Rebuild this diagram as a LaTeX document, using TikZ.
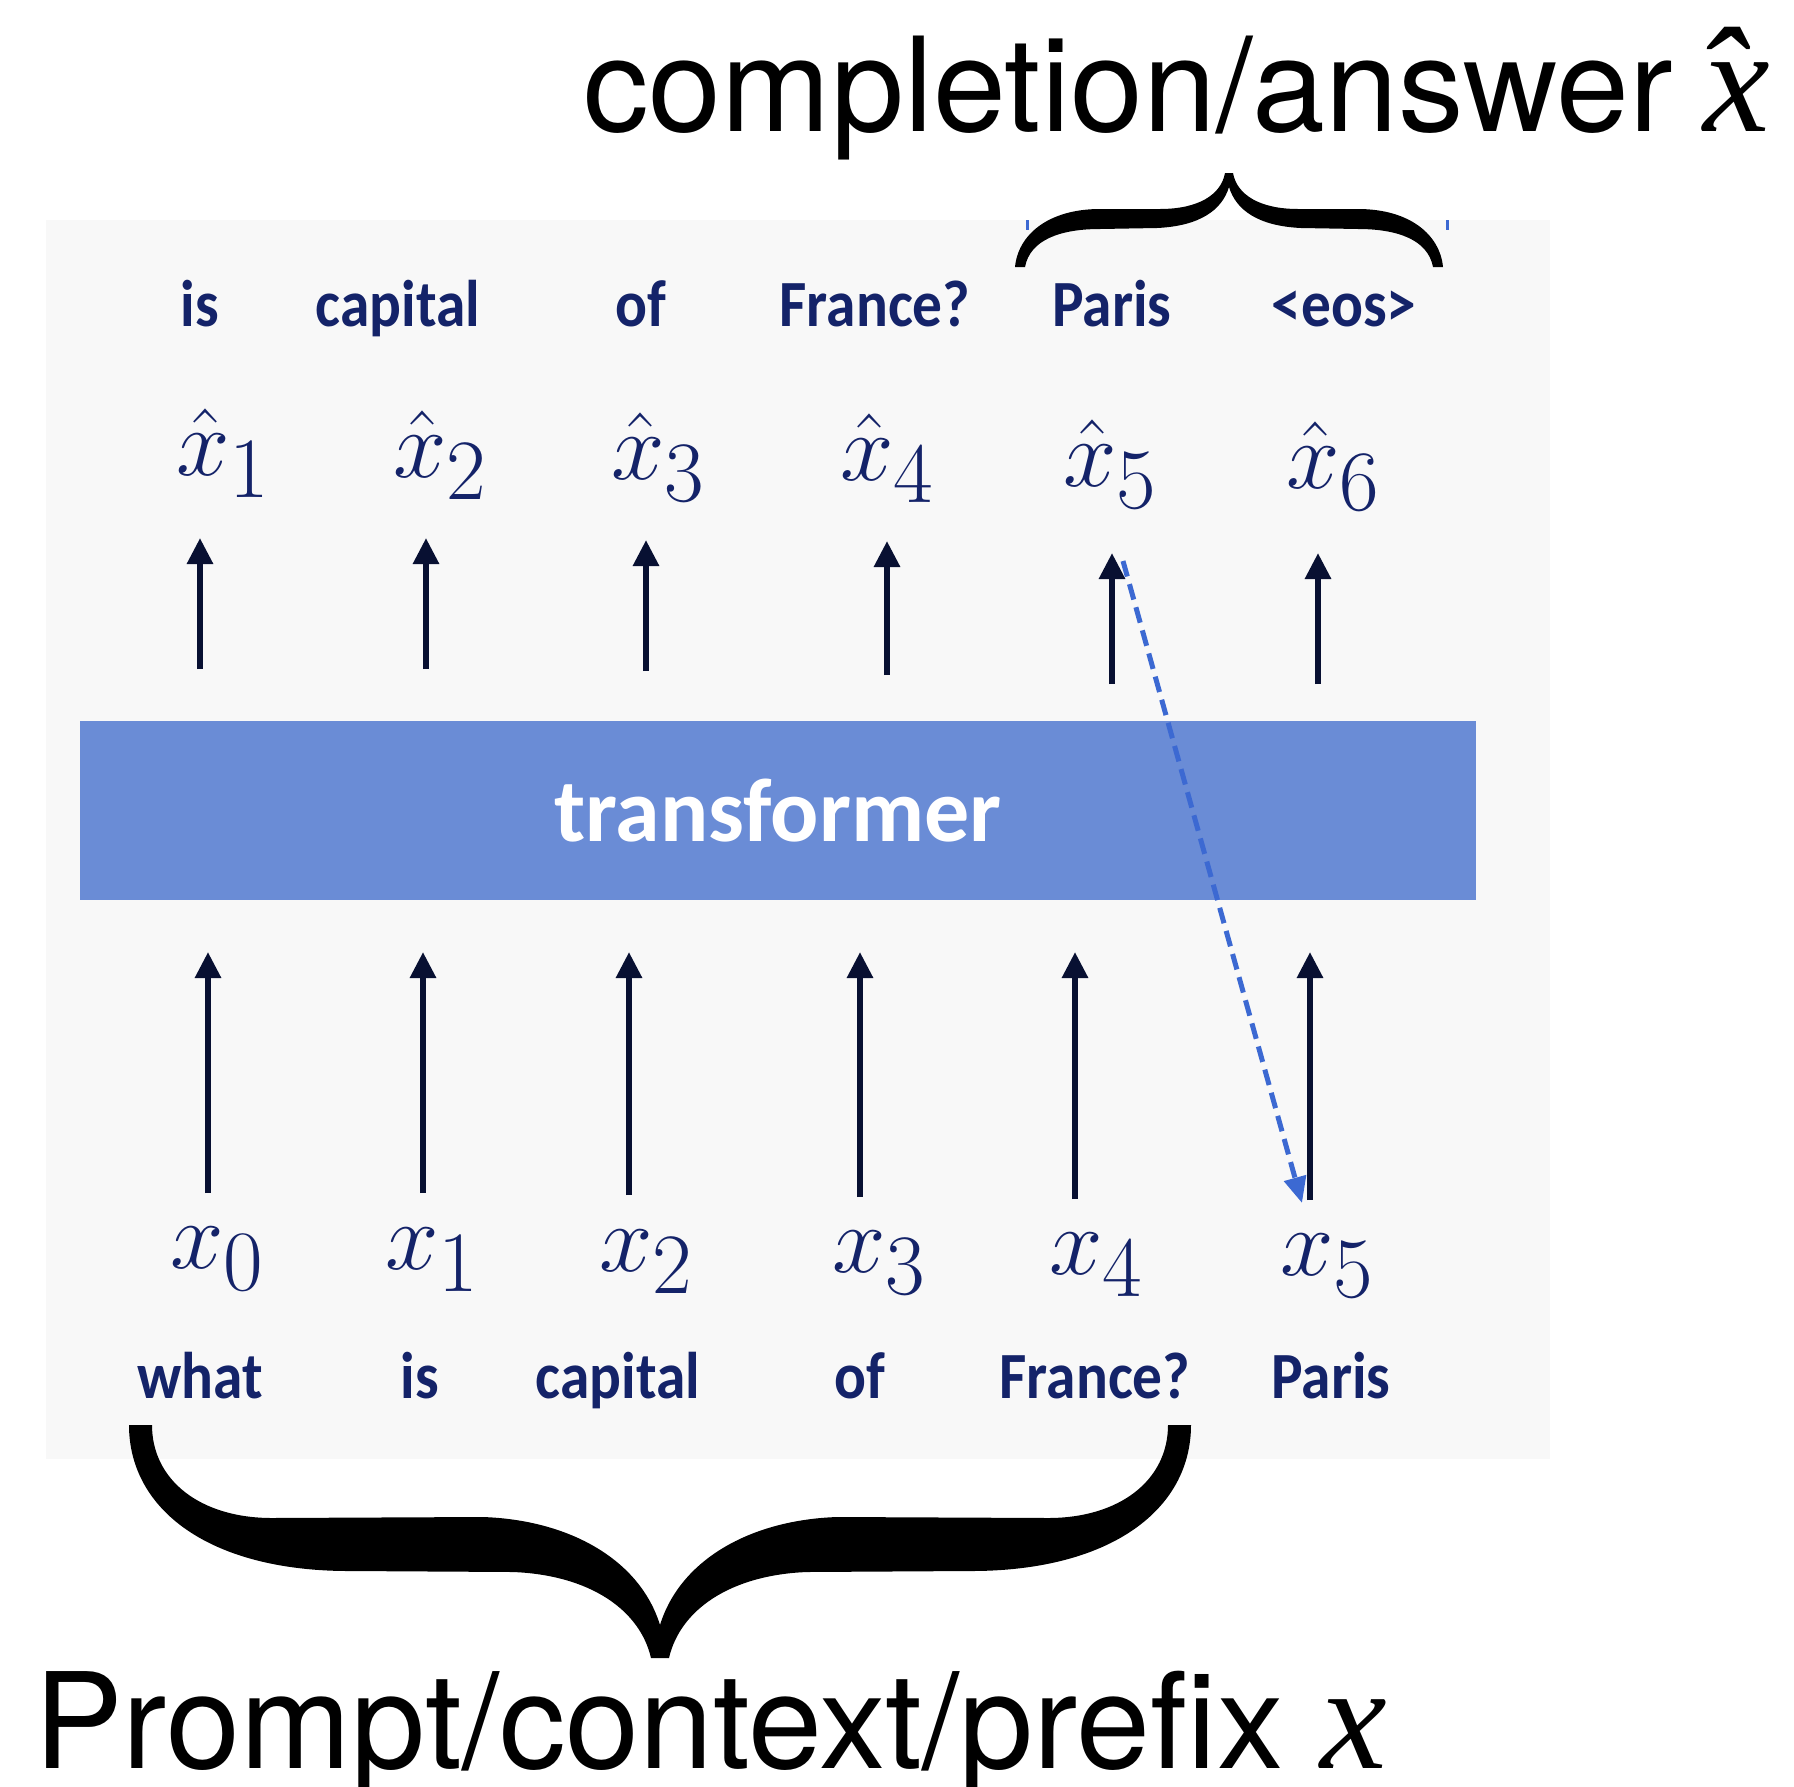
\RequirePackage{fix-cm}
\documentclass[tikz,border=0pt]{standalone}
\usepackage{fontspec}
\setmainfont{TeX Gyre Heros}
\newfontfamily\wordfont[FakeStretch=0.9]{Carlito}
\newfontfamily\boxfont{Carlito}
\newfontfamily\capvar{Liberation Serif}
\usetikzlibrary{arrows.meta}
\DeclareMathSizes{96}{96}{86}{60}

\definecolor{panelbg}{RGB}{248,248,248}
\definecolor{tfblue}{RGB}{106,140,214}
\definecolor{navy}{RGB}{20,35,105}
\definecolor{arrowc}{RGB}{8,16,50}
\definecolor{dashblue}{RGB}{60,105,210}

% italic variable with a circumflex, for the captions
\newcommand{\capx}{{\capvar\itshape x}}
\newcommand{\caphatx}{{\capvar\itshape\makebox[0pt][l]{\hspace{-0.06em}\char"02C6}x}}

\tikzset{
  biglabel/.style={inner sep=0pt, anchor=base west, text=black},
  tokword/.style={inner sep=0pt, anchor=base, text=navy,
    font=\wordfont\bfseries\fontsize{66}{66}\selectfont},
  tokmath/.style={inner sep=0pt, anchor=base, text=navy,
    font=\fontsize{96}{96}\selectfont},
  uparrow/.style={draw=arrowc, line width=6pt,
    -{Triangle[length=26pt,width=25pt]}},
  feedback/.style={draw=dashblue, line width=5pt, dash pattern=on 16pt off 8pt,
    -{Triangle[length=26pt,width=22pt]}},
  bracefill/.style={fill=black, draw=none}
}

\begin{document}
\begin{tikzpicture}[x=1pt,y=-1pt]
\useasboundingbox (0,0) rectangle (1794,1786);

% light panel behind the model sketch
\fill[panelbg] (46,220) rectangle (1550,1459);
\draw[dashblue, line width=3pt] (1027,220) -- (1027,230);
\draw[dashblue, line width=3pt] (1447,220) -- (1447,230);

% transformer block
\node[fill=tfblue, minimum width=1396pt, minimum height=179pt, inner sep=0pt,
      text=white, font=\boxfont\bfseries\fontsize{90}{90}\selectfont]
  (tf) at (778,810.5) {transformer};

% predicted tokens (top rows)
\foreach \i/\xx/\w in {1/200/is, 2/398/capital, 3/641/of, 4/875/France?, 5/1112/Paris, 6/1344/<eos>}
  \node[tokword] (o\i) at (\xx,326) {\w};
\foreach \i/\xx/\yy in {1/223/475, 2/440/477, 3/658/479, 4/887/480, 5/1110/486, 6/1333/488}
  \node[tokmath] (h\i) at (\xx,\yy) {$\hat{x}_{\i}$};

% input tokens (bottom rows)
\foreach \i/\xx/\yy in {0/217/1268, 1/432/1269, 2/646/1271, 3/879/1272, 4/1096/1274, 5/1327/1275}
  \node[tokmath] (x\i) at (\xx,\yy) {$x_{\i}$};
\foreach \i/\xx/\w in {0/200/what, 1/420/is, 2/618/capital, 3/860/of, 4/1095/France?, 5/1331/Paris}
  \node[tokword] (w\i) at (\xx,1398) {\w};

% arrows out of the transformer
\foreach \i/\xx/\yb/\yt in {1/200/669/538, 2/426/669/538, 3/646/671/540, 4/887/675/541, 5/1112/684/553, 6/1318/684/553} {
  \coordinate (ob\i) at (\xx,\yb);
  \coordinate (ot\i) at (\xx,\yt);
  \draw[uparrow] (ob\i) -- (ot\i);
}
% arrows into the transformer
\foreach \i/\xx/\yb/\yt in {0/208/1193/952, 1/423/1193/952, 2/629/1195/952, 3/860/1197/952, 4/1075/1199/952, 5/1310/1200/952} {
  \coordinate (ib\i) at (\xx,\yb);
  \coordinate (it\i) at (\xx,\yt);
  \draw[uparrow] (ib\i) -- (it\i);
}

% generated token fed back as next input
\coordinate (fbs) at (1123,561);
\coordinate (fbe) at (1302,1203);
\draw[feedback] (fbs) -- (fbe);

% brace over the completion
\path[bracefill] (1015,267) -- (1025,267)
  .. controls (1030,240) and (1060,229) .. (1100,229) -- (1157,228)
  .. controls (1200,226) and (1222,210) .. (1229,187)
  .. controls (1236,210) and (1258,226) .. (1301,228) -- (1358,229)
  .. controls (1398,229) and (1428,240) .. (1433,267) -- (1443,267)
  .. controls (1440,235) and (1410,209) .. (1358,209) -- (1298,209)
  .. controls (1260,209) and (1237,195) .. (1233,173) -- (1225,173)
  .. controls (1221,195) and (1198,209) .. (1160,209) -- (1100,209)
  .. controls (1048,209) and (1018,235) .. (1015,267) -- cycle;

% brace under the prompt
\path[bracefill] (129,1425) -- (152,1425)
  .. controls (152,1480) and (200,1518) .. (272,1518) -- (483,1517)
  .. controls (570,1520) and (640,1560) .. (660,1625)
  .. controls (680,1560) and (750,1520) .. (837,1517) -- (1048,1518)
  .. controls (1120,1518) and (1168,1480) .. (1168,1425) -- (1191,1425)
  .. controls (1191,1510) and (1110,1571) .. (971,1571) -- (807,1572)
  .. controls (730,1575) and (680,1610) .. (669,1658) -- (651,1658)
  .. controls (640,1610) and (590,1575) .. (513,1572) -- (349,1571)
  .. controls (210,1571) and (129,1510) .. (129,1425) -- cycle;

% captions
\node[biglabel, font=\fontsize{131}{131}\selectfont] (ans) at (583,131)
  {completion/answer\hspace{-6pt} {\fontsize{150}{150}\selectfont\caphatx}};
\node[biglabel, font=\fontsize{133}{133}\selectfont] (pre) at (34,1768)
  {Prompt/context/prefix {\fontsize{150}{150}\selectfont\capx}};
\end{tikzpicture}
\end{document}
